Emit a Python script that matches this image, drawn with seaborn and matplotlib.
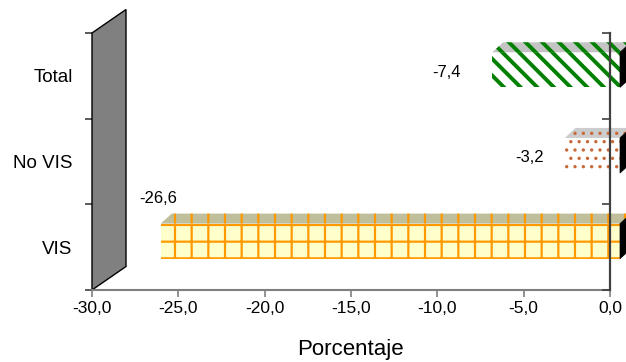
import matplotlib
matplotlib.use("Agg")
import matplotlib.pyplot as plt
import seaborn as sns
import pandas as pd
from matplotlib.patches import Polygon
from matplotlib.transforms import Affine2D, IdentityTransform

# ---- data ----
categories = ["Total", "No VIS", "VIS"]
values = [-7.4, -3.2, -26.6]
value_labels = ["-7,4", "-3,2", "-26,6"]
xticks = [-30, -25, -20, -15, -10, -5, 0]
xtick_labels = ["-30,0", "-25,0", "-20,0", "-15,0", "-10,0", "-5,0", "0,0"]
xlabel = "Porcentaje"

# ---- styles ----
front_face = ["white", "white", "#ffffcc"]
front_hatch = ["\\\\", "..", "+"]
hatch_col = ["#008000", "#c86a3a", "#ff9900"]
hatch_lw = [2.8, 1.2, 1.6]
top_face = ["#c4c4c4", "#cccccc", "#bfbf9c"]
top_hatch = ["\\\\", "..", "|"]
label_offsets = [(-36, 3), (-25, 4), (7, 49)]  # pixels
shift = (10, 6)      # front face shift (px)
depth = (11, 10)     # bar depth (px)
wall_depth = (34, 23.5)

sns.set_theme(style="white")
plt.rcParams["font.family"] = ["Liberation Sans", "DejaVu Sans"]

fig = plt.figure(figsize=(6.26, 3.62), dpi=100)
ax = fig.add_axes([92 / 626, 72 / 362, 518 / 626, 257 / 362])
ax.patch.set_alpha(0)

df = pd.DataFrame({"cat": categories, "val": values})
sns.barplot(data=df, x="val", y="cat", orient="h", order=categories,
            width=0.41, color="white", errorbar=None, ax=ax)
ax.set_xlim(-30, 0)
ax.set_ylim(2.5, -0.5)


def set_hlw(p, lw):
    try:
        p.set_hatch_linewidth(lw)
    except Exception:
        p._hatch_linewidth = lw


# gray wall on the left
(x0, y0) = ax.transAxes.transform((0, 0))
(x1, y1) = ax.transAxes.transform((1, 1))
wall = Polygon([(x0, y1), (x0 + wall_depth[0], y1 + wall_depth[1]),
                (x0 + wall_depth[0], y0 + wall_depth[1]), (x0, y0)],
               closed=True, facecolor="#808080", edgecolor="black", lw=1.0,
               transform=IdentityTransform(), clip_on=False, zorder=1)

bars = list(ax.patches)
ax.add_artist(wall)
for i, p in enumerate(bars):
    bx, by, bw, bh = p.get_x(), p.get_y(), p.get_width(), p.get_height()
    pts = ax.transData.transform([(bx, by), (bx + bw, by + bh)])
    L = min(pts[0][0], pts[1][0]) + shift[0]
    R = max(pts[0][0], pts[1][0]) + shift[0]
    B = min(pts[0][1], pts[1][1]) + shift[1]
    T = max(pts[0][1], pts[1][1]) + shift[1]
    p.set_transform(ax.transData + Affine2D().translate(*shift))
    p.set_facecolor(front_face[i])
    p.set_edgecolor(hatch_col[i])
    p.set_linewidth(0)
    p.set_hatch(front_hatch[i])
    set_hlw(p, hatch_lw[i])
    p.set_clip_on(False)
    p.set_zorder(3)
    top = Polygon([(L, T), (R, T), (R + depth[0], T + depth[1]), (L + depth[0], T + depth[1])],
                  closed=True, facecolor=top_face[i], edgecolor=hatch_col[i], lw=0,
                  hatch=top_hatch[i], transform=IdentityTransform(), clip_on=False, zorder=3)
    set_hlw(top, hatch_lw[i])
    ax.add_artist(top)
    side = Polygon([(R, B), (R, T), (R + depth[0], T + depth[1]), (R + depth[0], B + depth[1])],
                   closed=True, facecolor="black", edgecolor="black", lw=0.5,
                   transform=IdentityTransform(), clip_on=False, zorder=3)
    ax.add_artist(side)
    ax.annotate(value_labels[i], xy=(values[i], i), xytext=label_offsets[i],
                textcoords="offset pixels", ha="center", va="center",
                fontsize=12, color="black", annotation_clip=False, zorder=6)

# spines
ax.spines["top"].set_visible(False)
ax.spines["left"].set_visible(False)
ax.spines["bottom"].set_color("#7f7f7f")
ax.spines["bottom"].set_linewidth(1.5)
ax.spines["bottom"].set_zorder(4)
ax.spines["right"].set_color("#404040")
ax.spines["right"].set_linewidth(1.6)
ax.spines["right"].set_zorder(8)

# ticks
ax.set_xticks(xticks, xtick_labels)
ax.tick_params(axis="x", length=5, width=1.2, color="#7f7f7f", labelsize=12.5,
               pad=3, labelcolor="black", bottom=True)
ax.set_yticks([0, 1, 2], categories)
ax.set_yticks([-0.5, 0.5, 1.5, 2.5], minor=True)
ax.tick_params(axis="y", which="major", length=0, pad=14, labelsize=13.5, labelcolor="black")
ax.tick_params(axis="y", which="minor", length=5, width=1.2, color="#404040", left=True, direction="out")
ax.set_xlabel("")
ax.set_ylabel("")

ax2 = ax.twinx()
ax2.set_ylim(ax.get_ylim())
ax2.set_yticks([-0.5, 0.5, 1.5, 2.5])
ax2.tick_params(axis="y", direction="in", length=6, width=1.2, color="#404040",
                labelright=False, right=True)
for s in ax2.spines.values():
    s.set_visible(False)

fig.text(350 / 626, 1 - 350 / 362, xlabel, ha="center", va="center", fontsize=16, color="black")

fig.savefig("out.png", dpi=100, facecolor="white")
